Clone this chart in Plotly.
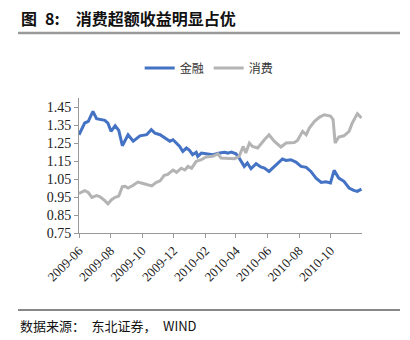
import plotly.graph_objects as go

fin_dates = ["2009-06-01","2009-06-12","2009-06-19","2009-06-28","2009-07-05","2009-07-21","2009-07-27",
 "2009-08-02","2009-08-10","2009-08-17","2009-08-24","2009-09-04","2009-09-14","2009-09-27","2009-10-10",
 "2009-10-19","2009-10-26","2009-11-05","2009-11-24","2009-11-30","2009-12-13","2009-12-19","2009-12-26",
 "2010-01-01","2010-01-07","2010-01-14","2010-01-17","2010-01-24","2010-02-02","2010-02-15","2010-02-28",
 "2010-03-10","2010-03-16","2010-03-23","2010-04-01","2010-04-07","2010-04-17","2010-04-23","2010-04-30",
 "2010-05-10","2010-05-19","2010-05-26","2010-06-04","2010-06-17","2010-06-30","2010-07-07","2010-07-16",
 "2010-07-26","2010-08-05","2010-08-15","2010-08-24","2010-09-03","2010-09-13","2010-09-22","2010-10-01",
 "2010-10-08","2010-10-17","2010-10-27","2010-11-06","2010-11-15","2010-11-22","2010-11-30"]
fin_vals = [1.296,1.361,1.37,1.426,1.385,1.376,1.36,
 1.315,1.346,1.32,1.235,1.296,1.26,1.29,1.296,
 1.324,1.305,1.296,1.26,1.268,1.231,1.203,1.222,
 1.209,1.185,1.198,1.176,1.194,1.19,1.185,1.194,
 1.198,1.194,1.2,1.19,1.167,1.12,1.139,1.107,
 1.135,1.117,1.111,1.092,1.129,1.161,1.153,1.157,
 1.144,1.12,1.115,1.092,1.055,1.031,1.035,1.028,
 1.098,1.055,1.037,1.0,0.987,0.981,0.994]

con_dates = ["2009-06-01","2009-06-12","2009-06-19","2009-06-26","2009-07-05","2009-07-11","2009-07-19",
 "2009-07-27","2009-08-03","2009-08-10","2009-08-17","2009-08-24","2009-08-29","2009-09-04","2009-09-14",
 "2009-09-23","2009-10-03","2009-10-12","2009-10-20","2009-10-28","2009-11-05","2009-11-13","2009-11-20",
 "2009-11-24","2009-11-30","2009-12-07","2009-12-16","2009-12-23","2009-12-29","2010-01-05","2010-01-14",
 "2010-01-24","2010-02-02","2010-02-15","2010-02-25","2010-03-03","2010-03-16","2010-03-29","2010-04-07",
 "2010-04-15","2010-04-20","2010-04-27","2010-05-03","2010-05-13","2010-05-26","2010-06-04","2010-06-14",
 "2010-06-27","2010-07-07","2010-07-23","2010-07-29","2010-08-08","2010-08-15","2010-08-21","2010-08-31",
 "2010-09-10","2010-09-19","2010-10-01","2010-10-06","2010-10-10","2010-10-17","2010-10-27","2010-11-06",
 "2010-11-12","2010-11-22","2010-11-30"]
con_vals = [0.97,0.985,0.975,0.948,0.958,0.952,0.935,
 0.912,0.935,0.948,0.955,1.008,1.01,1.0,1.015,
 1.033,1.025,1.02,1.012,1.03,1.04,1.07,1.075,
 1.085,1.10,1.087,1.11,1.1,1.12,1.11,1.148,
 1.157,1.172,1.176,1.19,1.167,1.163,1.163,1.176,
 1.231,1.194,1.25,1.231,1.222,1.268,1.296,1.26,
 1.228,1.25,1.253,1.264,1.315,1.296,1.333,1.37,
 1.394,1.407,1.40,1.38,1.25,1.283,1.29,1.315,
 1.36,1.413,1.389]

y_ticks = [0.75, 0.85, 0.95, 1.05, 1.15, 1.25, 1.35, 1.45]
x_ticks = ["2009-06-01","2009-08-01","2009-10-01","2009-12-01","2010-02-01","2010-04-01",
           "2010-06-01","2010-08-01","2010-10-01"]
x_labels = ["2009-06","2009-08","2009-10","2009-12","2010-02","2010-04","2010-06","2010-08","2010-10"]

CJK = "Noto Sans CJK SC"
SERIF = "Liberation Serif"

fig = go.Figure()
fig.add_trace(go.Scatter(x=fin_dates, y=fin_vals, mode="lines", name="金融",
                         line=dict(color="#4472C4", width=3)))
fig.add_trace(go.Scatter(x=con_dates, y=con_vals, mode="lines", name="消费",
                         line=dict(color="#B4B4B4", width=3)))

fig.update_layout(
    width=410, height=340,
    margin=dict(l=79, r=48, t=98, b=107),
    paper_bgcolor="white", plot_bgcolor="white",
    showlegend=True,
    legend=dict(orientation="h", x=0.46, xanchor="center", y=1 - 68/340, yref="container",
                yanchor="middle", font=dict(family=CJK, size=12, color="#333"),
                itemwidth=30, traceorder="normal"),
    xaxis=dict(type="date", range=["2009-06-01", "2010-12-01"],
               tickvals=x_ticks, ticktext=x_labels, tickangle=-45,
               showgrid=False, zeroline=False, showline=True, linecolor="#999", linewidth=1,
               ticks="outside", ticklen=4, tickcolor="#999",
               tickfont=dict(family=SERIF, size=13, color="#222")),
    yaxis=dict(range=[0.75, 1.5], tickvals=y_ticks, ticktext=[f"{v:.2f}" for v in y_ticks],
               showgrid=False, zeroline=False, showline=True, linecolor="#999", linewidth=1,
               ticks="outside", ticklen=4, tickcolor="#999",
               tickfont=dict(family=SERIF, size=14, color="#222")),
    shapes=[
        dict(type="line", xref="paper", yref="paper", x0=-61/283, x1=(400-79)/283,
             y0=1+(98-33)/135, y1=1+(98-33)/135, line=dict(color="#999", width=2.5)),
        dict(type="line", xref="paper", yref="paper", x0=-61/283, x1=(400-79)/283,
             y0=-(310-233)/135, y1=-(310-233)/135, line=dict(color="#111", width=1)),
    ],
    annotations=[
        dict(text="<b>图\u20028:\u2002\u2002消费超额收益明显占优</b>", xref="paper", yref="paper",
             x=-60/283, y=1+(98-18)/135, xanchor="left", yanchor="middle", showarrow=False,
             font=dict(family=CJK, size=16, color="#111")),
        dict(text="数据来源：\u2002东北证券，\u2002WIND", xref="paper", yref="paper",
             x=-61/283, y=-(325-233)/135, xanchor="left", yanchor="middle", showarrow=False,
             font=dict(family=CJK, size=13, color="#111")),
    ],
)

fig.write_html("out.html")
